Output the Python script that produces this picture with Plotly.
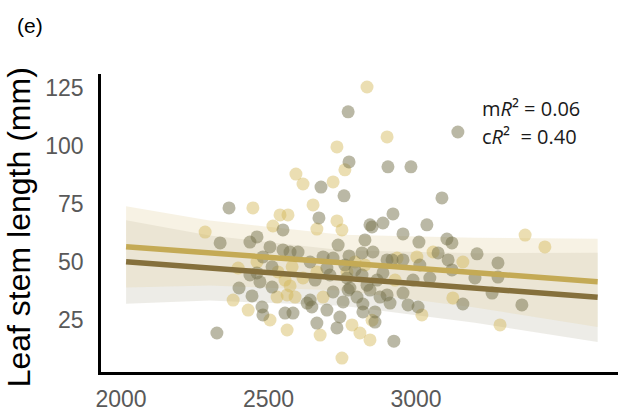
import plotly.graph_objects as go

# ---- data ----
light_x = [2834, 2902, 2732, 2759, 2593, 2617, 2719, 2651, 2447, 2539, 2566, 2515, 2664, 2732, 2749,
           2285, 3370, 3437, 2461, 2397, 2580, 2617, 2936, 3003, 3058, 3159, 2380, 2529, 2563, 2590,
           2685, 3125, 2431, 2505, 2563, 2675, 2783, 2810, 2844, 2749, 3285, 3020, 2532, 2793, 2827,
           2929, 2556, 2664, 2766, 2573, 2851]
light_y = [125.4, 103.9, 99.6, 89.7, 87.9, 83.6, 84.5, 74.6, 73.3, 70.3, 70.3, 65.5, 64.2, 67.7, 63.8,
           62.9, 61.6, 56.5, 50.0, 47.4, 47.9, 43.1, 51.7, 52.2, 54.3, 50.0, 33.6, 34.9, 35.8, 34.9,
           34.9, 34.5, 29.3, 25.0, 20.7, 18.5, 22.9, 19.4, 16.4, 8.6, 22.9, 27.2, 45.7, 50.0, 48.7,
           42.2, 42.2, 45.7, 45.7, 39.7, 24.9]

dark_x = [2770, 3142, 2773, 2905, 2983, 2678, 2756, 3088, 2366, 2671, 2549, 2922, 2844, 2888, 3037,
          2956, 3010, 3105, 3122, 2851, 2336, 2437, 2461, 2505, 2549, 2600, 2736, 2827, 2817, 2854,
          2685, 2719, 2902, 2919, 2956, 3109, 3207, 3278, 3278, 3200, 3122, 3047, 2990, 2888, 2868,
          2817, 2766, 2708, 2512, 2461, 2400, 2444, 2512, 2641, 2719, 2770, 2844, 2878, 2800, 2902,
          2956, 2912, 2973, 3007, 3159, 3258, 3359, 2478, 2481, 2556, 2583, 2647, 2698, 2753, 2820,
          2861, 2664, 2742, 2861, 2732, 2325, 2925, 2573, 3075, 2481, 2631, 2641, 2759, 3013, 2658,
          2437, 2773, 2698, 2793, 2471, 2776, 2834, 2820]
dark_y = [114.7, 106.0, 93.1, 91.0, 91.0, 82.3, 78.5, 77.6, 73.3, 69.0, 63.8, 70.7, 66.0, 66.8, 66.0,
          62.1, 58.6, 59.9, 58.2, 65.1, 58.2, 58.6, 60.8, 56.5, 55.2, 54.3, 57.3, 59.5, 53.9, 54.3,
          52.2, 51.7, 50.9, 50.9, 50.9, 50.9, 53.5, 49.6, 43.5, 43.1, 46.6, 43.1, 42.2, 45.3, 42.2,
          44.4, 43.1, 44.4, 47.9, 45.3, 38.8, 35.4, 39.2, 33.6, 37.1, 37.9, 37.9, 34.9, 34.9, 35.8,
          36.6, 32.3, 31.5, 30.6, 31.9, 36.6, 31.5, 30.6, 27.2, 28.0, 28.0, 30.6, 29.3, 32.8, 28.5,
          28.5, 23.7, 26.3, 24.1, 21.6, 19.4, 15.9, 54.3, 53.9, 52.2, 32.3, 50.0, 48.7, 48.7, 42.2,
          44.4, 52.6, 47.4, 46.6, 41.4, 38.8, 40.0, 31.9]

# fitted lines and confidence bands
fit_x = [2017, 3616]
light_fit = [56.6, 41.5]
dark_fit = [50.1, 34.8]

band_x = [2017, 2300, 2750, 3200, 3616]
light_lo = [39.0, 39.9, 37.7, 30.4, 22.0]
light_hi = [74.0, 67.9, 61.7, 60.4, 60.0]
dark_lo = [32.0, 33.4, 31.1, 23.8, 15.5]
dark_hi = [68.0, 61.4, 55.1, 53.8, 54.0]

x_ticks = [2000, 2500, 3000]
y_ticks = [25, 50, 75, 100, 125]

fig = go.Figure()

def band(lo, hi, color):
    fig.add_trace(go.Scatter(x=band_x, y=lo, mode="lines", line=dict(width=0),
                             showlegend=False, hoverinfo="skip"))
    fig.add_trace(go.Scatter(x=band_x, y=hi, mode="lines", line=dict(width=0),
                             fill="tonexty", fillcolor=color, showlegend=False, hoverinfo="skip"))

band(dark_lo, dark_hi, "rgba(200,195,180,0.32)")
band(light_lo, light_hi, "rgba(230,215,170,0.32)")

fig.add_trace(go.Scatter(x=light_x, y=light_y, mode="markers",
                         marker=dict(size=13, color="rgba(211,181,85,0.45)", line=dict(width=0)),
                         showlegend=False))
fig.add_trace(go.Scatter(x=dark_x, y=dark_y, mode="markers",
                         marker=dict(size=13, color="rgba(117,113,75,0.5)", line=dict(width=0)),
                         showlegend=False))

fig.add_trace(go.Scatter(x=fit_x, y=light_fit, mode="lines",
                         line=dict(color="#c4aa55", width=5.5), showlegend=False))
fig.add_trace(go.Scatter(x=fit_x, y=dark_fit, mode="lines",
                         line=dict(color="#85703c", width=5.5), showlegend=False))

fig.update_layout(
    width=618, height=411,
    margin=dict(l=101, r=0, t=74, b=39),
    plot_bgcolor="white", paper_bgcolor="white",
    font=dict(family="Liberation Sans, Arial, sans-serif"),
    xaxis=dict(range=[1932, 3685], tickvals=x_ticks, showgrid=False, zeroline=False,
               showline=True, linecolor="black", linewidth=2.5, ticks="",
               tickfont=dict(size=23, color="#595959"), ticklabelstandoff=5),
    yaxis=dict(range=[2.6, 131], tickvals=y_ticks, showgrid=False, zeroline=False,
               showline=True, linecolor="black", linewidth=2.5, ticks="",
               tickfont=dict(size=23, color="#595959"), ticklabelstandoff=10),
    annotations=[
        dict(text="Leaf stem length (mm)", xref="paper", yref="paper", x=-0.157, y=0.485,
             textangle=-90, showarrow=False, xanchor="center", yanchor="middle",
             font=dict(size=32, color="black", family="Liberation Sans, Arial, sans-serif")),
        dict(text="(e)", xref="paper", yref="paper", x=-0.166, y=1.164, showarrow=False,
             xanchor="left", yanchor="middle",
             font=dict(size=21, color="black", family="Liberation Sans, Arial, sans-serif")),
        dict(text="m<i>R</i>² = 0.06", xref="paper", yref="paper", x=0.733, y=0.883,
             showarrow=False, xanchor="left", yanchor="middle",
             font=dict(size=20, color="#1a1a1a", family="Open Sans, sans-serif")),
        dict(text="c<i>R</i>²  = 0.40", xref="paper", yref="paper", x=0.733, y=0.789,
             showarrow=False, xanchor="left", yanchor="middle",
             font=dict(size=20, color="#1a1a1a", family="Open Sans, sans-serif")),
    ],
)

fig.write_html("out.html", config={"displayModeBar": False},
               post_script="document.body.style.margin='0px';")
